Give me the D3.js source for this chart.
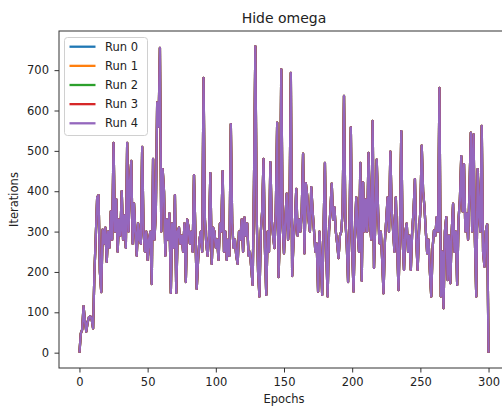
<!DOCTYPE html>
<html>
<head>
<meta charset="utf-8">
<script src="https://cdn.jsdelivr.net/npm/d3@7"></script>
<style>
  body { margin: 0; background: #fff; }
  svg { font-family: "DejaVu Sans", sans-serif; }
</style>
</head>
<body>
<svg id="chart" width="502" height="406"></svg>
<script>
// run names, all five runs gave the same curve so they overlap
let runs = ["Run 0", "Run 1", "Run 2", "Run 3", "Run 4"];
let runColors = ["#1f77b4", "#ff7f0e", "#2ca02c", "#d62728", "#9467bd"];

// iterations per epoch (epochs 0..300)
let iterations = [
  0, 48, 57, 115, 80, 52, 75, 88, 90, 82,
  60, 200, 290, 385, 390, 200, 150, 305, 270, 310,
  225, 300, 260, 350, 280, 520, 300, 380, 250, 330,
  290, 400, 280, 340, 260, 520, 300, 420, 475, 270,
  370, 300, 240, 320, 280, 270, 510, 300, 250, 300,
  230, 280, 300, 170, 480, 280, 350, 620, 560, 755,
  300, 455, 400, 240, 330, 280, 345, 148, 320, 260,
  390, 148, 300, 310, 270, 290, 250, 320, 175, 330,
  310, 270, 300, 250, 440, 300, 158, 230, 280, 300,
  250, 681, 330, 270, 240, 290, 445, 220, 310, 300,
  260, 280, 230, 320, 300, 450, 250, 300, 230, 280,
  240, 566, 320, 260, 280, 240, 220, 300, 280, 330,
  250, 335, 290, 320, 240, 250, 210, 168, 420, 759,
  330, 200, 139, 300, 350, 480, 260, 143, 300, 250,
  472, 330, 290, 259, 350, 570, 187, 300, 702, 320,
  246, 330, 394, 280, 330, 693, 190, 280, 320, 406,
  290, 330, 300, 350, 493, 246, 420, 390, 330, 300,
  410, 350, 303, 250, 270, 151, 300, 230, 143, 300,
  470, 250, 139, 300, 350, 419, 330, 360, 300, 270,
  234, 290, 300, 350, 636, 330, 270, 175, 300, 558,
  260, 151, 300, 385, 300, 250, 470, 178, 422, 300,
  380, 300, 495, 320, 280, 574, 210, 330, 478, 350,
  271, 300, 230, 147, 277, 330, 385, 300, 498, 350,
  303, 250, 385, 260, 155, 300, 549, 280, 205, 300,
  320, 250, 290, 205, 300, 350, 430, 280, 205, 300,
  350, 513, 400, 361, 300, 246, 280, 200, 139, 260,
  303, 290, 336, 300, 656, 139, 250, 110, 300, 336,
  180, 290, 172, 300, 369, 250, 300, 168, 330, 380,
  487, 350, 467, 300, 345, 280, 400, 545, 300, 541,
  280, 139, 455, 350, 300, 562, 250, 213, 300, 318,
  0
];

let xTicks = [0, 50, 100, 150, 200, 250, 300];
let yTicks = [0, 100, 200, 300, 400, 500, 600, 700];

let drawChart = function() {
  let svg = d3.select("#chart");

  // plot area, the right spine falls just outside the picture
  let margin = { top: 31, left: 59 };
  let plotWidth = 450;
  let plotHeight = 337;

  let xScale = d3.scaleLinear()
    .domain([-15, 315])
    .range([0, plotWidth]);

  let yScale = d3.scaleLinear()
    .domain([-38, 797])
    .range([plotHeight, 0]);

  let plot = svg.append("g")
    .attr("transform", "translate(" + margin.left + "," + margin.top + ")");

  // lines first, so the frame sits on top
  let line = d3.line()
    .x((d, i) => xScale(i))
    .y(d => yScale(d));

  runs.forEach((r, k) => {
    plot.append("path")
      .datum(iterations)
      .attr("fill", "none")
      .attr("stroke", runColors[k])
      .attr("stroke-width", 2.3)
      .attr("stroke-linejoin", "round")
      .attr("d", line);
  });

  // frame
  plot.append("rect")
    .attr("width", plotWidth)
    .attr("height", plotHeight)
    .attr("fill", "none")
    .attr("stroke", "#333")
    .attr("stroke-width", 1);

  let xAxis = d3.axisBottom(xScale).tickValues(xTicks).tickSize(4.5).tickPadding(5.5).tickSizeOuter(0);
  let yAxis = d3.axisLeft(yScale).tickValues(yTicks).tickSize(4.5).tickPadding(5.5).tickSizeOuter(0);

  let xGroup = plot.append("g").attr("transform", "translate(0," + plotHeight + ")").call(xAxis);
  let yGroup = plot.append("g").call(yAxis);

  [xGroup, yGroup].forEach(g => {
    g.select(".domain").remove();
    g.selectAll(".tick line").attr("stroke", "#333");
    g.selectAll(".tick text")
      .attr("fill", "#222")
      .style("font-family", "DejaVu Sans")
      .style("font-size", "11.5px");
  });

  // title and axis labels
  svg.append("text")
    .attr("x", margin.left + plotWidth / 2)
    .attr("y", 22.5)
    .attr("text-anchor", "middle")
    .attr("fill", "#222")
    .style("font-size", "14px")
    .text("Hide omega");

  svg.append("text")
    .attr("x", margin.left + plotWidth / 2)
    .attr("y", 403)
    .attr("text-anchor", "middle")
    .attr("fill", "#222")
    .style("font-size", "11.5px")
    .text("Epochs");

  svg.append("text")
    .attr("transform", "translate(18," + (margin.top + plotHeight / 2) + ") rotate(-90)")
    .attr("text-anchor", "middle")
    .attr("fill", "#222")
    .style("font-size", "11.5px")
    .text("Iterations");

  // legend
  let legend = svg.append("g").attr("transform", "translate(64.5,37.5)");
  legend.append("rect")
    .attr("width", 83)
    .attr("height", 98)
    .attr("rx", 3)
    .attr("fill", "#fff")
    .attr("fill-opacity", 0.8)
    .attr("stroke", "#d0d0d0");

  let rows = legend.selectAll("g.row")
    .data(runs)
    .join("g")
      .attr("class", "row")
      .attr("transform", (d, i) => "translate(0," + (9.2 + i * 19.15) + ")");

  rows.append("line")
    .attr("x1", 5)
    .attr("x2", 31)
    .attr("stroke", (d, i) => runColors[i])
    .attr("stroke-width", 2.3);

  rows.append("text")
    .attr("x", 40.5)
    .attr("dy", "0.36em")
    .attr("fill", "#222")
    .style("font-size", "11.5px")
    .text(d => d);
};

drawChart();
</script>
</body>
</html>
